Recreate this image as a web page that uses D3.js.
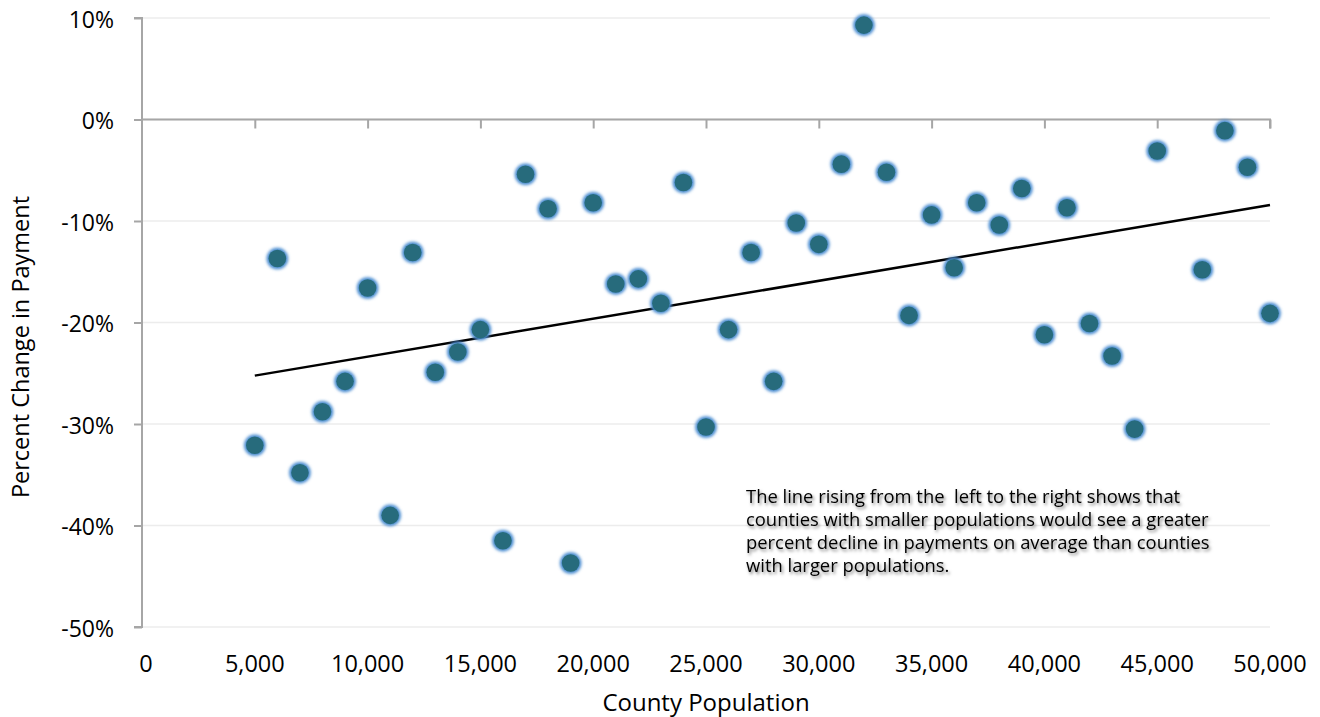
<!DOCTYPE html>
<html><head><meta charset="utf-8">
<script src="https://cdn.jsdelivr.net/npm/d3@7"></script>
<style>
html,body{margin:0;padding:0;background:#fff;}
svg{display:block;font-family:"Open Sans",sans-serif;}
</style></head>
<body>
<svg id="chart" width="1320" height="717"></svg>
<script>
const population = [5000,6000,7000,8000,9000,10000,11000,12000,13000,14000,15000,16000,17000,18000,19000,20000,21000,22000,23000,24000,25000,26000,27000,28000,29000,30000,31000,32000,33000,34000,35000,36000,37000,38000,39000,40000,41000,42000,43000,44000,45000,47000,48000,49000,50000];
const pctChange = [-32.1,-13.7,-34.8,-28.8,-25.8,-16.6,-39.0,-13.1,-24.9,-22.9,-20.7,-41.5,-5.4,-8.8,-43.7,-8.2,-16.2,-15.7,-18.1,-6.2,-30.3,-20.7,-13.1,-25.8,-10.2,-12.3,-4.4,9.3,-5.2,-19.3,-9.4,-14.6,-8.2,-10.4,-6.8,-21.2,-8.7,-20.1,-23.3,-30.5,-3.1,-14.8,-1.1,-4.7,-19.1];
const xTicks = [0,5000,10000,15000,20000,25000,30000,35000,40000,45000,50000];
const yTicks = [10,0,-10,-20,-30,-40,-50];
const annotation = ["The line rising from the  left to the right shows that","counties with smaller populations would see a greater","percent decline in payments on average than counties","with larger populations."];

const svg = d3.select("#chart");
const x = d3.scaleLinear().domain([0,50000]).range([142,1270]);
const y = d3.scaleLinear().domain([-50,10]).range([627,18]);

const defs = svg.append("defs");
defs.append("filter").attr("id","glow").attr("x","-50%").attr("y","-50%").attr("width","200%").attr("height","200%")
  .append("feGaussianBlur").attr("stdDeviation",1.4);
const sh = defs.append("filter").attr("id","tshadow").attr("x","-10%").attr("y","-30%").attr("width","120%").attr("height","160%");
sh.append("feDropShadow").attr("dx",1.5).attr("dy",2.2).attr("stdDeviation",1.4).attr("flood-color","#000").attr("flood-opacity",0.5);

// gridlines
svg.append("g").selectAll("line").data(yTicks).join("line")
  .attr("x1",x(0)).attr("x2",x(50000)).attr("y1",d=>y(d)).attr("y2",d=>y(d))
  .attr("stroke","#ececec").attr("stroke-width",1.5);

// y axis
const yAxis = svg.append("g").attr("transform",`translate(${x(0)},0)`)
  .call(d3.axisLeft(y).tickValues(yTicks).tickSize(8).tickPadding(20).tickFormat(d=>d+"%"));
yAxis.select(".domain").attr("stroke","#a6a6a6").attr("stroke-width",2).attr("d",`M-8,${y(10)}H0V${y(-50)}H-8`);
yAxis.selectAll(".tick line").attr("stroke","#a6a6a6").attr("stroke-width",2);
yAxis.selectAll(".tick text").attr("font-size",23).attr("fill","#000").attr("font-family","Open Sans").attr("dy","0.4em");

// x axis at 0%
const xAxis = svg.append("g").attr("transform",`translate(0,${y(0)})`)
  .call(d3.axisBottom(x).tickValues(xTicks).tickSize(9).tickFormat(""));
xAxis.select(".domain").attr("stroke","#a6a6a6").attr("stroke-width",2).attr("d",`M${x(0)},0H${x(50000)}V9`);
xAxis.selectAll(".tick line").attr("stroke","#a6a6a6").attr("stroke-width",2);
xAxis.selectAll(".tick").filter(d=>d===0).remove();

// x tick labels at bottom
svg.append("g").selectAll("text").data(xTicks).join("text")
  .attr("x",d=>x(d)+(d===0?4:0)).attr("y",672).attr("text-anchor","middle")
  .attr("font-size",23.5).attr("fill","#000").text(d=>d3.format(",")(d));

// trendline (least squares)
const n = population.length;
const mx = d3.mean(population), my = d3.mean(pctChange);
let sxy=0,sxx=0;
for(let i=0;i<n;i++){sxy+=(population[i]-mx)*(pctChange[i]-my);sxx+=(population[i]-mx)**2;}
const slope = sxy/sxx, intercept = my - slope*mx;
const x0 = d3.min(population), x1 = d3.max(population);
svg.append("line").attr("x1",x(x0)).attr("y1",y(intercept+slope*x0)).attr("x2",x(x1)).attr("y2",y(intercept+slope*x1))
  .attr("stroke","#000").attr("stroke-width",2.5);

// points
const pts = svg.append("g").selectAll("g").data(population.map((p,i)=>[p,pctChange[i]])).join("g")
  .attr("transform",d=>`translate(${x(d[0])},${y(d[1])})`);
pts.append("circle").attr("r",10.8).attr("fill","#4a8cd0").attr("filter","url(#glow)");
pts.append("circle").attr("r",8.8).attr("fill","#276b7c");

// axis titles
svg.append("text").attr("transform","translate(29,347) rotate(-90)").attr("text-anchor","middle")
  .attr("font-size",23.5).attr("fill","#000").text("Percent Change in Payment");
svg.append("text").attr("x",706).attr("y",711).attr("text-anchor","middle")
  .attr("font-size",24).attr("fill","#000").text("County Population");

// annotation
svg.append("g").attr("filter","url(#tshadow)").selectAll("text").data(annotation).join("text")
  .attr("x",746).attr("y",(d,i)=>503+i*23).attr("font-size",18.4).attr("fill","#000")
  .attr("xml:space","preserve").style("white-space","pre").text(d=>d);
</script>
</body></html>
